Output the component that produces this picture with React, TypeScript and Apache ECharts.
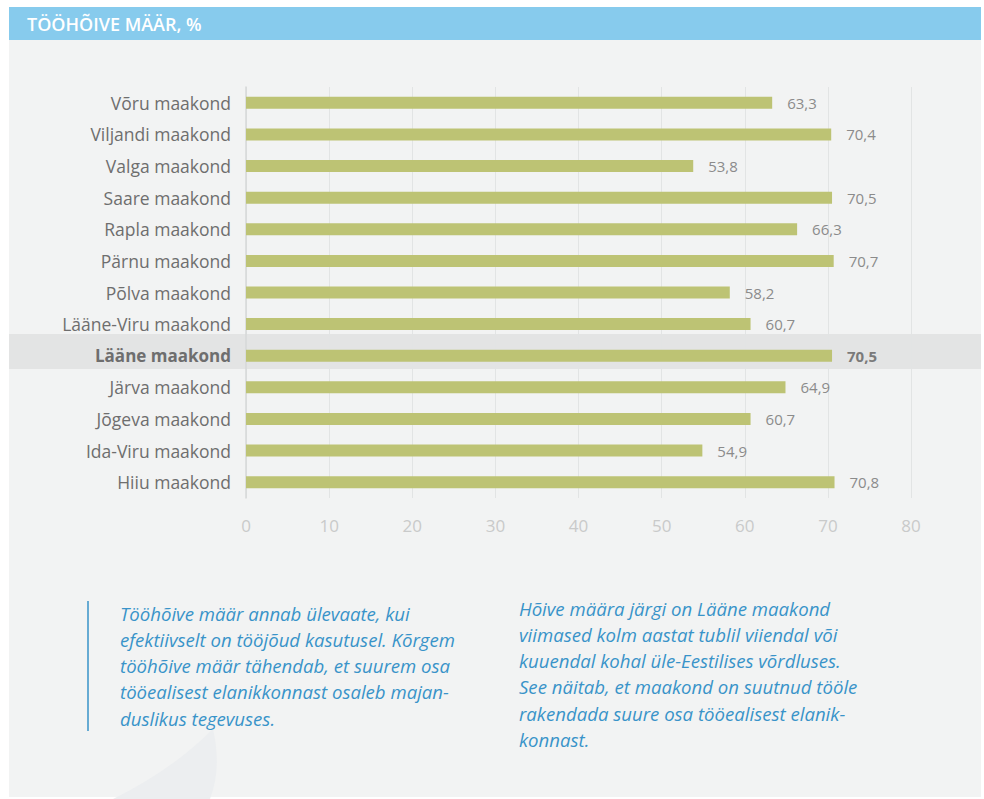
import React, { useEffect, useRef } from "react";
import * as echarts from "echarts";

const categories = [
  "Võru maakond",
  "Viljandi maakond",
  "Valga maakond",
  "Saare maakond",
  "Rapla maakond",
  "Pärnu maakond",
  "Põlva maakond",
  "Lääne-Viru maakond",
  "Lääne maakond",
  "Järva maakond",
  "Jõgeva maakond",
  "Ida-Viru maakond",
  "Hiiu maakond",
];
const values = [63.3, 70.4, 53.8, 70.5, 66.3, 70.7, 58.2, 60.7, 70.5, 64.9, 60.7, 54.9, 70.8];
const highlighted = "Lääne maakond";
const title = "TÖÖHÕIVE MÄÄR, %";
const noteLeft = [
  "Tööhõive määr annab ülevaate, kui",
  "efektiivselt on tööjõud kasutusel. Kõrgem",
  "tööhõive määr tähendab, et suurem osa",
  "tööealisest elanikkonnast osaleb majan-",
  "duslikus tegevuses.",
];
const noteRight = [
  "Hõive määra järgi on Lääne maakond",
  "viimased kolm aastat tublil viiendal või",
  "kuuendal kohal üle-Eestilises võrdluses.",
  "See näitab, et maakond on suutnud tööle",
  "rakendada suure osa tööealisest elanik-",
  "konnast.",
];

const FONT = "'Open Sans', 'Noto Sans', sans-serif";
const fmt = (v: number) => v.toFixed(1).replace(".", ",");

echarts.graphic.registerShape(
  "leaf",
  echarts.graphic.extendPath("M213,729 Q222,768 210,799 L113,799 Q172,770 213,729 Z", {})
);

export default function App() {
  const ref = useRef<HTMLDivElement>(null);
  useEffect(() => {
    if (!ref.current) return;
    const chart = echarts.init(ref.current, null, { renderer: "svg" });
    const textStyle = {
      fontFamily: FONT,
      fontStyle: "italic",
      fontSize: 18.6,
      fill: "#3993c9",
    };
    chart.setOption({
      animation: false,
      grid: { left: 246, right: 73, top: 87, height: 411, containLabel: false },
      xAxis: {
        type: "value",
        min: 0,
        max: 80,
        interval: 10,
        axisLine: { show: false },
        axisTick: { show: false },
        splitLine: { lineStyle: { color: "#e2e4e4", width: 1 } },
        axisLabel: { color: "#c9caca", fontSize: 17, fontFamily: FONT, margin: 19 },
      },
      yAxis: {
        type: "category",
        data: categories,
        inverse: true,
        axisTick: { show: false },
        axisLine: { show: true, lineStyle: { color: "#d6d8d8", width: 1.5 } },
        axisLabel: {
          margin: 15,
          fontFamily: FONT,
          fontSize: 17.5,
          color: "#6e6e6e",
          formatter: (v: string) => (v === highlighted ? `{b|${v}}` : v),
          rich: { b: { fontWeight: "bold", fontSize: 17, color: "#6e6e6e", fontFamily: FONT } },
        },
      },
      graphic: [
        { type: "rect", z: -20, silent: true, shape: { x: 9, y: 40, width: 972, height: 757 }, style: { fill: "#f2f3f3" } },
        { type: "rect", z: -20, silent: true, shape: { x: 9, y: 7, width: 972, height: 33 }, style: { fill: "#87cbed" } },
        {
          type: "text",
          z: 5,
          x: 27,
          y: 24,
          style: { text: title, fill: "#ffffff", fontFamily: FONT, fontSize: 18, fontWeight: 600, verticalAlign: "middle" },
        },
        { type: "rect", z: -15, silent: true, shape: { x: 9, y: 334, width: 972, height: 35 }, style: { fill: "#e3e4e4" } },
        { type: "leaf", z: -18, silent: true, style: { fill: "#eceef0" } },
        { type: "line", z: 5, shape: { x1: 88, y1: 601, x2: 88, y2: 731 }, style: { stroke: "#3993c9", lineWidth: 1.5 } },
        ...noteLeft.map((t, i) => ({
          type: "text",
          z: 5,
          x: 120,
          y: 613 + i * 26.3,
          style: { ...textStyle, text: t, verticalAlign: "middle" },
        })),
        ...noteRight.map((t, i) => ({
          type: "text",
          z: 5,
          x: 519,
          y: 608 + i * 26.3,
          style: { ...textStyle, text: t, verticalAlign: "middle" },
        })),
      ],
      series: [
        {
          type: "bar",
          barWidth: 12,
          itemStyle: { color: "#bdc374" },
          label: {
            show: true,
            position: "right",
            distance: 15,
            color: "#8b8b8b",
            fontSize: 15,
            fontFamily: FONT,
            formatter: (p: any) => fmt(p.value),
          },
          data: values.map((v, i) =>
            categories[i] === highlighted
              ? { value: v, label: { fontWeight: "bold", color: "#7a7a7a" } }
              : v
          ),
        },
      ],
    });
    return () => chart.dispose();
  }, []);
  return (
    <div
      ref={ref}
      style={{ position: "absolute", left: 0, top: 0, width: 984, height: 799, background: "#ffffff" }}
    />
  );
}
